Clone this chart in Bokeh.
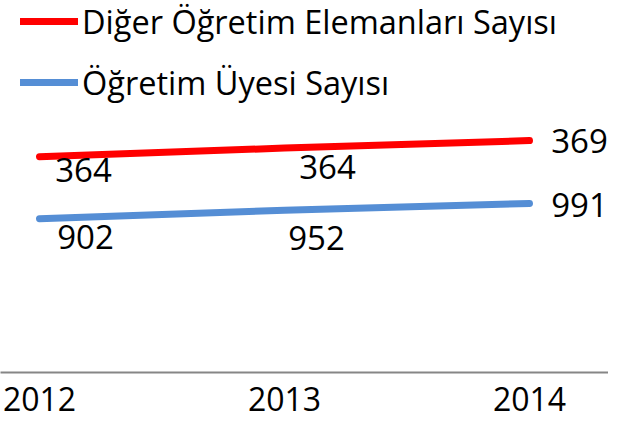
import numpy as np
from bokeh.plotting import figure
from bokeh.models import (ColumnDataSource, Range1d, FixedTicker, Legend, LegendItem)
from bokeh.core.properties import value
from bokeh.embed import file_html
from bokeh.resources import INLINE

# ---- data ----
years = [2012, 2013, 2014]
series_names = ["Öğretim Üyesi Sayısı", "Diğer Öğretim Elemanları Sayısı"]
ogretim_uyesi = [902, 952, 991]
diger_elemanlar = [364, 364, 369]

# ---- styling ----
FONT = "Open Sans"
BLUE = "#558ED5"
RED = "#FF0000"
# label offsets in screen px (style only)
blue_dx = [46, 32, 50]
blue_dy = [18, 28, 1]
red_dx = [44, 43, 50]
red_dy = [13, 19, 0]

stack_blue = np.array(ogretim_uyesi, dtype=float)
stack_red = stack_blue + np.array(diger_elemanlar, dtype=float)

W, H = 608, 424
BOTTOM = 52
frame_h = H - BOTTOM
px_per_unit = 0.1705
px_per_year = 245
first_x = 39

p = figure(width=W, height=H, output_backend="svg", toolbar_location=None,
           x_range=Range1d(years[0] - first_x / px_per_year,
                           years[0] + (W - first_x) / px_per_year),
           y_range=Range1d(0, frame_h / px_per_unit),
           min_border_left=0, min_border_right=0, min_border_top=0,
           min_border_bottom=BOTTOM)
p.outline_line_color = None
p.grid.visible = False
p.yaxis.visible = False

blue_src = ColumnDataSource(dict(x=years, y=stack_blue,
                                 t=[str(v) for v in ogretim_uyesi],
                                 dx=blue_dx, dy=blue_dy))
red_src = ColumnDataSource(dict(x=years, y=stack_red,
                                t=[str(v) for v in diger_elemanlar],
                                dx=red_dx, dy=red_dy))

blue_r = p.line("x", "y", source=blue_src, line_color=BLUE, line_width=7,
                line_cap="round", line_join="round")
red_r = p.line("x", "y", source=red_src, line_color=RED, line_width=7,
               line_cap="round", line_join="round")

for src in (blue_src, red_src):
    p.text("x", "y", text="t", source=src, x_offset="dx", y_offset="dy",
           text_align="center", text_baseline="middle",
           text_font=value(FONT), text_font_size="33px", text_color="black")

ax = p.xaxis[0]
ax.ticker = FixedTicker(ticks=years)
ax.major_label_overrides = {y: str(y) for y in years}
ax.axis_line_color = "#868686"
ax.axis_line_width = 2
ax.major_tick_line_color = None
ax.minor_tick_line_color = None
ax.major_label_text_font = FONT
ax.major_label_text_font_size = "32px"
ax.major_label_text_color = "black"
ax.major_label_standoff = 8

legend = Legend(items=[LegendItem(label=series_names[1], renderers=[red_r]),
                       LegendItem(label=series_names[0], renderers=[blue_r])],
                location=(20, 267), orientation="vertical",
                glyph_width=58, glyph_height=46, label_height=46,
                label_standoff=4, spacing=15, padding=0, margin=0,
                border_line_color=None, background_fill_alpha=0,
                label_text_font=FONT, label_text_font_size="32.5px",
                label_text_color="black")
p.add_layout(legend, "center")

open("out.html", "w").write(file_html(p, INLINE))
